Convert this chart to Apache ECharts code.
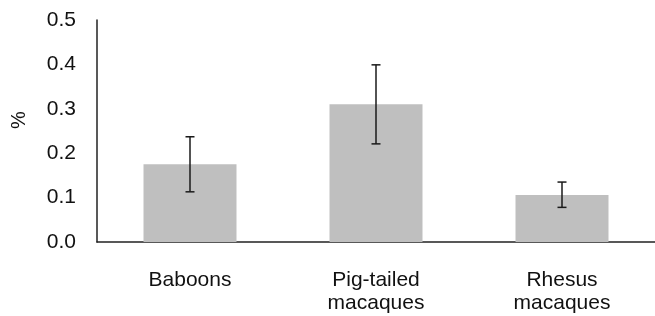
<!DOCTYPE html>
<html>
<head>
<meta charset="utf-8">
<script src="https://cdn.jsdelivr.net/npm/echarts@6/dist/echarts.min.js"></script>
<style>
  html, body { margin: 0; padding: 0; background: #fff; }
  #chart { width: 655px; height: 316px; }
</style>
</head>
<body>
<div id="chart"></div>
<script>
const categories = ['Baboons', 'Pig-tailed\nmacaques', 'Rhesus\nmacaques'];
const meanValues = [0.175, 0.310, 0.106];
const errLower = [0.113, 0.221, 0.078];
const errUpper = [0.237, 0.399, 0.135];
const yTicks = { min: 0, max: 0.5, interval: 0.1 };

const font = '"Liberation Sans", Arial, sans-serif';

const chart = echarts.init(document.getElementById('chart'));
const option = {
    animation: false,
    grid: { left: 97, right: -4, top: 20, bottom: 74 },
    xAxis: {
        type: 'category',
        data: categories,
        axisLine: { lineStyle: { color: '#222', width: 1.5 } },
        axisTick: { show: false },
        axisLabel: {
            margin: 27,
            fontFamily: font,
            fontSize: 21,
            lineHeight: 23,
            color: '#111'
        }
    },
    yAxis: {
        type: 'value',
        min: yTicks.min,
        max: yTicks.max,
        interval: yTicks.interval,
        axisLine: { show: true, lineStyle: { color: '#222', width: 1.5 } },
        axisTick: { show: false },
        splitLine: { show: false },
        axisLabel: {
            margin: 21,
            fontFamily: font,
            fontSize: 21,
            color: '#111',
            formatter: v => v.toFixed(1)
        }
    },
    graphic: [{
        type: 'text',
        x: 19,
        y: 120,
        rotation: Math.PI / 2,
        style: {
            text: '%',
            font: '20px ' + font,
            fill: '#111',
            align: 'center',
            verticalAlign: 'middle'
        }
    }],
    series: [
        {
            type: 'bar',
            data: meanValues,
            barWidth: '50%',
            itemStyle: { color: '#bfbfbf' }
        },
        {
            type: 'custom',
            data: categories.map((c, i) => [i, errLower[i], errUpper[i]]),
            z: 10,
            renderItem: function (params, api) {
                const lo = api.coord([api.value(0), api.value(1)]);
                const hi = api.coord([api.value(0), api.value(2)]);
                const cap = 4.5;
                const style = { stroke: '#1a1a1a', lineWidth: 1.5 };
                return {
                    type: 'group',
                    children: [
                        { type: 'line', shape: { x1: lo[0], y1: lo[1], x2: hi[0], y2: hi[1] }, style: style },
                        { type: 'line', shape: { x1: hi[0] - cap, y1: hi[1], x2: hi[0] + cap, y2: hi[1] }, style: style },
                        { type: 'line', shape: { x1: lo[0] - cap, y1: lo[1], x2: lo[0] + cap, y2: lo[1] }, style: style }
                    ]
                };
            }
        }
    ]
};
chart.setOption(option);
</script>
</body>
</html>
